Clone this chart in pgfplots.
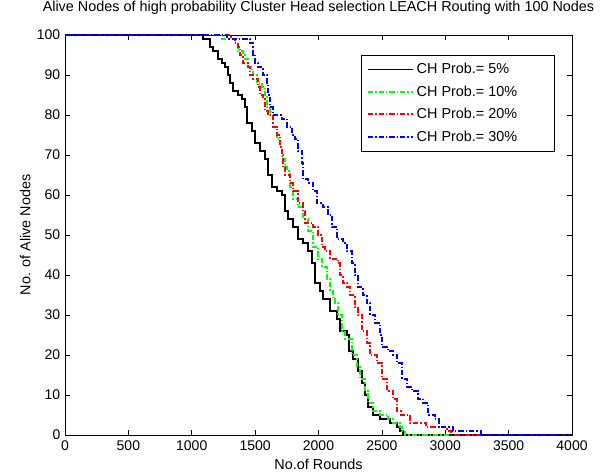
\documentclass[border=0pt]{standalone}
\usepackage{fontspec}
\setmainfont{Liberation Sans}
\usepackage{pgfplots}
\pgfplotsset{compat=1.18}
\definecolor{mgreen}{rgb}{0,1,0}

\pgfplotstableread{
x y
0 100
1090 99
1144 97
1168 96
1207 94
1239 93
1262 92
1286 90
1302 88
1325 86
1365 85
1396 84
1420 82
1436 78
1475 76
1499 73
1538 71
1578 69
1602 65
1633 62
1672 61
1712 60
1736 56
1760 54
1799 52
1838 49
1878 48
1917 46
1949 43
1972 38
2012 36
2036 34
2091 31
2146 29
2170 26
2225 25
2241 21
2272 19
2312 16
2343 13
2367 10
2391 7
2430 5
2485 4
2564 3
2619 2
2643 1
2665 0
4000 0
}\pfive

\pgfplotstableread{
x y
0 100
1239 99
1341 98
1365 96
1404 95
1420 94
1444 92
1475 91
1483 90
1515 88
1554 87
1578 85
1594 82
1617 80
1641 77
1672 74
1700 72
1712 69
1736 67
1751 66
1775 62
1799 59
1838 57
1878 54
1917 51
1957 47
1996 44
2028 42
2067 39
2091 36
2114 34
2130 33
2154 30
2185 26
2209 24
2264 20
2304 17
2327 14
2367 11
2391 8
2430 6
2485 5
2549 4
2588 3
2643 2
2659 1
2680 0
4000 0
}\pten

\pgfplotstableread{
x y
0 100
1310 99
1341 98
1365 97
1380 95
1404 93
1444 92
1460 90
1483 89
1523 87
1538 85
1562 84
1578 81
1602 80
1641 77
1672 75
1696 72
1712 70
1720 67
1736 65
1775 63
1799 61
1838 58
1878 56
1894 53
1957 52
1996 50
2028 47
2051 46
2091 44
2154 43
2170 40
2193 38
2225 37
2248 35
2288 32
2312 30
2343 26
2383 23
2406 20
2461 18
2501 14
2540 11
2588 9
2619 6
2650 5
2722 3
2850 2
3014 1
3045 0
4000 0
}\ptwenty

\pgfplotstableread{
x y
0 100
1278 99
1460 98
1483 95
1499 93
1523 92
1562 90
1594 88
1602 85
1617 82
1641 80
1712 79
1751 77
1791 75
1815 74
1838 71
1870 68
1878 64
1917 63
1957 61
1988 58
2036 57
2075 55
2106 52
2146 49
2193 48
2225 46
2264 43
2288 40
2312 37
2350 35
2380 33
2406 30
2446 28
2485 25
2501 22
2549 21
2588 20
2619 18
2659 14
2698 12
2738 11
2785 9
2824 8
2864 5
2919 4
2950 2
3061 1
3280 0
4000 0
}\pthirty

\begin{document}
\begin{tikzpicture}
\begin{axis}[
  scale only axis,
  width=380.25pt, height=300pt,
  xmin=0, xmax=4000, ymin=0, ymax=100,
  xtick={0,500,...,4000}, ytick={0,10,...,100},
  tick align=inside,
  major tick length=4pt,
  axis line style={line width=0.6pt},
  every tick/.style={black, line width=0.5pt},
  /pgf/number format/assume math mode=true,
  /pgf/number format/1000 sep={},
  ticklabel style={font=\fontsize{10.5}{12}\selectfont},
  xticklabel style={yshift=-1pt},
  title={Alive Nodes of high probability Cluster Head selection LEACH Routing with 100 Nodes},
  title style={font=\fontsize{10.8}{12}\selectfont, at={(0.5,1)}, anchor=south, yshift=6pt},
  xlabel={No.of Rounds},
  ylabel={No. of Alive Nodes},
  label style={font=\fontsize{10.8}{12}\selectfont},
  xlabel style={yshift=1pt},
  ylabel style={yshift=-2pt},
  legend style={at={(0.966,0.95)}, anchor=north east, draw=black,
    font=\fontsize{10.8}{12}\selectfont, row sep=3.5pt, inner xsep=4pt, inner ysep=4pt},
  legend cell align=left,
  legend image code/.code={\draw[#1] (0pt,0pt) -- (34pt,0pt);},
  legend image post style={line width=1.3pt, sharp plot},
  every axis plot/.append style={line width=1.3pt},
]
\addplot[const plot, black] table {\pfive};
\addplot[const plot, mgreen, dash pattern=on 4pt off 1.5pt on 1pt off 1.5pt] table {\pten};
\addplot[const plot, red, dash pattern=on 4pt off 1.5pt on 1pt off 1.5pt] table {\ptwenty};
\addplot[const plot, blue, dash pattern=on 4pt off 1.5pt on 1pt off 1.5pt] table {\pthirty};
\legend{CH Prob.= 5\%, CH Prob.= 10\%, CH Prob.= 20\%, CH Prob.= 30\%\hspace*{22pt}}
\end{axis}
\pgfresetboundingbox
\useasboundingbox (-48.75pt,-30pt) rectangle (411pt,326.25pt);
\end{tikzpicture}
\end{document}
